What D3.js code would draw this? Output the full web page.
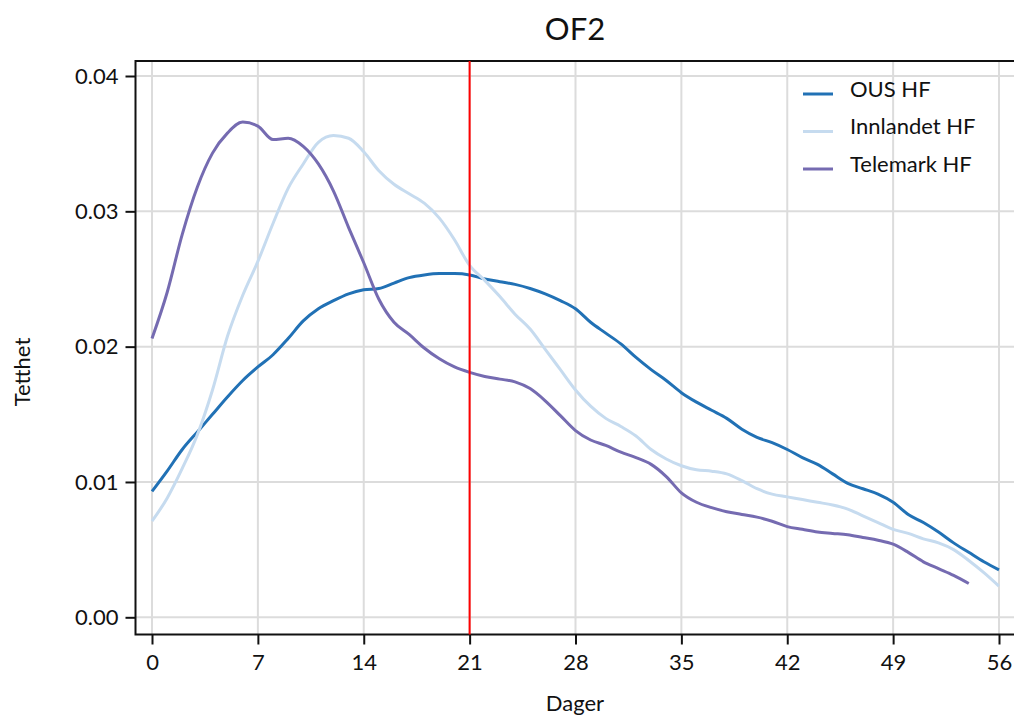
<!DOCTYPE html>
<html lang="no">
<head>
    <meta charset="UTF-8">
    <title>OF2</title>
    <script src="https://d3js.org/d3.v7.min.js"></script>
    <style>
        body { margin: 0; background: #fff; }
        text { font-family: Lato, "Open Sans", sans-serif; fill: #111; }
    </style>
</head>
<body>
    <svg width="1014" height="719"></svg>
    <script>
        // Dager 0..56
        var days = d3.range(0, 57);
        var seriesNames = ["OUS HF", "Innlandet HF", "Telemark HF"];
        var seriesColors = ["#2171b5", "#c6dbef", "#756bb1"];

        var ous = [0.0093, 0.0108, 0.0124, 0.0137, 0.0150, 0.0163, 0.0175, 0.0185, 0.0194, 0.0206,
                   0.0219, 0.0228, 0.0234, 0.0239, 0.0242, 0.0243, 0.0247, 0.0251, 0.0253, 0.0254,
                   0.0254, 0.0253, 0.0250, 0.0248, 0.0246, 0.0243, 0.0239, 0.0234, 0.0228, 0.0218,
                   0.0210, 0.0202, 0.0192, 0.0183, 0.0175, 0.0166, 0.0159, 0.0153, 0.0147, 0.0139,
                   0.0133, 0.0129, 0.0124, 0.0118, 0.0113, 0.0106, 0.0099, 0.0095, 0.0091, 0.0085,
                   0.0076, 0.0070, 0.0063, 0.0055, 0.0048, 0.0041, 0.0035];
        var innlandet = [0.0071, 0.0088, 0.0110, 0.0135, 0.0168, 0.0208, 0.0238, 0.0263, 0.0291, 0.0317,
                   0.0335, 0.0351, 0.0356, 0.0354, 0.0344, 0.0330, 0.0320, 0.0313, 0.0306, 0.0295,
                   0.0279, 0.0260, 0.0249, 0.0237, 0.0224, 0.0213, 0.0198, 0.0183, 0.0168, 0.0156,
                   0.0147, 0.0141, 0.0134, 0.0124, 0.0117, 0.0112, 0.0109, 0.0108, 0.0106, 0.0101,
                   0.0095, 0.0091, 0.0089, 0.0087, 0.0085, 0.0083, 0.0080, 0.0075, 0.0070, 0.0065,
                   0.0062, 0.0058, 0.0055, 0.0050, 0.0042, 0.0033, 0.0023];
        var telemark = [0.0206, 0.0240, 0.0283, 0.0318, 0.0343, 0.0358, 0.0366, 0.0363, 0.0353, 0.0354,
                   0.0348, 0.0335, 0.0315, 0.0288, 0.0262, 0.0235, 0.0218, 0.0209, 0.0199, 0.0191,
                   0.0185, 0.0181, 0.0178, 0.0176, 0.0174, 0.0169, 0.0160, 0.0149, 0.0138, 0.0131,
                   0.0127, 0.0122, 0.0118, 0.0113, 0.0104, 0.0092, 0.0085, 0.0081, 0.0078, 0.0076,
                   0.0074, 0.0071, 0.0067, 0.0065, 0.0063, 0.0062, 0.0061, 0.0059, 0.0057, 0.0054,
                   0.0048, 0.0041, 0.0036, 0.0031, 0.0025];
        var xTicks = [0, 7, 14, 21, 28, 35, 42, 49, 56];
        var yTicks = [0, 0.01, 0.02, 0.03, 0.04];
        var markerDay = 21;

        var svg = d3.select("svg");
        // plottområdets kanter
        var pLeft = 135.5, pTop = 61, pBottom = 634.5, pRight = 1016;

        var x = d3.scaleLinear().domain([0, 56]).range([152, 999]);
        var y = d3.scaleLinear().domain([0, 0.04]).range([617.3, 76]);

        // Gitterlinjer
        svg.append("g").selectAll("line").data(xTicks).enter().append("line")
            .attr("x1", function(d) { return x(d); }).attr("x2", function(d) { return x(d); })
            .attr("y1", pTop).attr("y2", pBottom)
            .attr("stroke", "#dcdcdc").attr("stroke-width", 2);
        svg.append("g").selectAll("line").data(yTicks).enter().append("line")
            .attr("x1", pLeft).attr("x2", pRight)
            .attr("y1", function(d) { return y(d); }).attr("y2", function(d) { return y(d); })
            .attr("stroke", "#dcdcdc").attr("stroke-width", 2);

        // Akser
        var xAxis = svg.append("g").attr("transform", "translate(0," + pBottom + ")")
            .call(d3.axisBottom(x).tickValues(xTicks).tickSize(10).tickPadding(6));
        var yAxis = svg.append("g").attr("transform", "translate(" + pLeft + ",0)")
            .call(d3.axisLeft(y).tickValues(yTicks).tickFormat(d3.format(".2f")).tickSize(10).tickPadding(7));
        [xAxis, yAxis].forEach(function(a) {
            a.select(".domain").remove();
            a.selectAll(".tick line").attr("stroke", "#111").attr("stroke-width", 2);
            a.selectAll(".tick text").style("font-size", "22px").attr("fill", "#111");
        });
        xAxis.selectAll(".tick text").attr("dy", "0.9em");

        svg.append("path")
            .attr("d", "M" + pRight + "," + pTop + "H" + pLeft + "V" + pBottom + "H" + pRight)
            .attr("fill", "none").attr("stroke", "#111").attr("stroke-width", 2);

        // Kurver
        var line = d3.line()
            .x(function(d, i) { return x(days[i]); })
            .y(function(d) { return y(d); })
            .curve(d3.curveMonotoneX);
        [ous, innlandet, telemark].forEach(function(s, i) {
            svg.append("path").datum(s)
                .attr("d", line)
                .attr("fill", "none")
                .attr("stroke", seriesColors[i])
                .attr("stroke-width", 3)
                .attr("stroke-linejoin", "round");
        });

        // Rød linje ved dag 21
        svg.append("line")
            .attr("x1", x(markerDay)).attr("x2", x(markerDay))
            .attr("y1", pTop).attr("y2", pBottom)
            .attr("stroke", "#ff0000").attr("stroke-width", 2);

        // Tegnforklaring
        var legend = svg.append("g");
        seriesNames.forEach(function(n, i) {
            var ly = 94 + i * 37.5;
            legend.append("line").attr("x1", 803).attr("x2", 833).attr("y1", ly).attr("y2", ly)
                .attr("stroke", seriesColors[i]).attr("stroke-width", 3);
            legend.append("text").attr("x", 850).attr("y", ly - 5).attr("dy", "0.35em")
                .style("font-size", "22px").text(n);
        });

        // Titler
        svg.append("text").attr("x", 575).attr("y", 40).attr("text-anchor", "middle")
            .style("font-size", "31px").text("OF2");
        svg.append("text").attr("x", 575).attr("y", 711).attr("text-anchor", "middle")
            .style("font-size", "22px").text("Dager");
        svg.append("text").attr("transform", "translate(30,372) rotate(-90)").attr("text-anchor", "middle")
            .style("font-size", "22px").text("Tetthet");
    </script>
</body>
</html>
